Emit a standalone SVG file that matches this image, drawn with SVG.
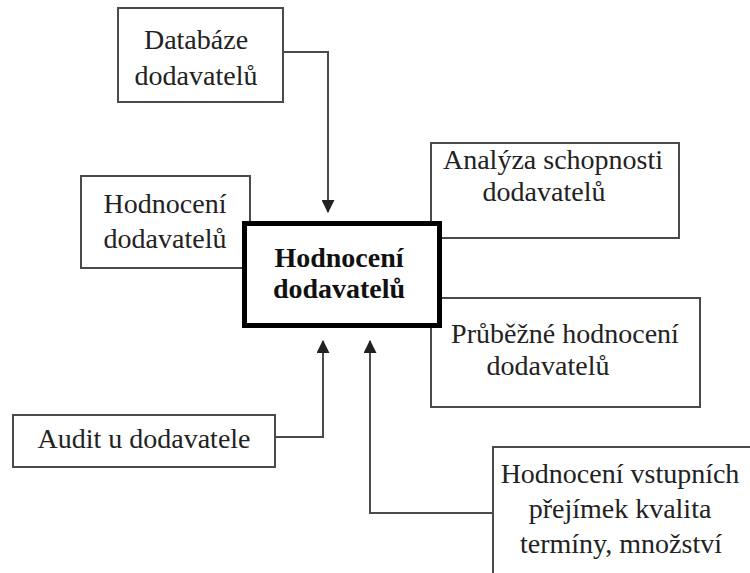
<svg xmlns="http://www.w3.org/2000/svg" width="750" height="573" viewBox="0 0 750 573" xml:lang="cs">
<defs>
<marker id="ah" viewBox="0 0 12 12" refX="11" refY="6" markerWidth="13" markerHeight="13" markerUnits="userSpaceOnUse" orient="auto">
<path d="M0,0 L12,6 L0,12 Z" fill="#222"/>
</marker>
</defs>
<rect width="750" height="573" fill="#fff"/>
<g id="connectors" fill="none" stroke="#4a4a4a" stroke-width="2">
<polyline points="283,52 328,52 328,212" marker-end="url(#ah)"/>
<polyline points="275,437 323,437 323,341" marker-end="url(#ah)"/>
<polyline points="493,513 370,513 370,341" marker-end="url(#ah)"/>
</g>
<g id="databaze">
<rect x="118" y="8" width="165" height="94" fill="#fff" stroke="#4a4a4a" stroke-width="2"/>
<text x="196" y="49" text-anchor="middle" fill="#222" style="font-family:'Liberation Serif','DejaVu Serif',serif;font-size:28px">Databáze</text>
<text x="196" y="85" text-anchor="middle" fill="#222" style="font-family:'Liberation Serif','DejaVu Serif',serif;font-size:28px">dodavatelů</text>
</g>
<g id="hodnoceni-left">
<rect x="81" y="176" width="169" height="92" fill="#fff" stroke="#4a4a4a" stroke-width="2"/>
<text x="165" y="213" text-anchor="middle" fill="#222" style="font-family:'Liberation Serif','DejaVu Serif',serif;font-size:28px">Hodnocení</text>
<text x="165" y="248" text-anchor="middle" fill="#222" style="font-family:'Liberation Serif','DejaVu Serif',serif;font-size:28px">dodavatelů</text>
</g>
<g id="analyza">
<rect x="431" y="143" width="248" height="95" fill="#fff" stroke="#4a4a4a" stroke-width="2"/>
<text x="553" y="169" text-anchor="middle" fill="#222" style="font-family:'Liberation Serif','DejaVu Serif',serif;font-size:28px">Analýza schopnosti</text>
<text x="544" y="201" text-anchor="middle" fill="#222" style="font-family:'Liberation Serif','DejaVu Serif',serif;font-size:28px">dodavatelů</text>
</g>
<g id="prubezne">
<rect x="431" y="298" width="269" height="109" fill="#fff" stroke="#4a4a4a" stroke-width="2"/>
<text x="565" y="343" text-anchor="middle" fill="#222" style="font-family:'Liberation Serif','DejaVu Serif',serif;font-size:28px">Průběžné hodnocení</text>
<text x="548" y="375" text-anchor="middle" fill="#222" style="font-family:'Liberation Serif','DejaVu Serif',serif;font-size:28px">dodavatelů</text>
</g>
<g id="audit">
<rect x="13" y="415" width="262" height="52" fill="#fff" stroke="#4a4a4a" stroke-width="2"/>
<text x="144" y="448" text-anchor="middle" fill="#222" style="font-family:'Liberation Serif','DejaVu Serif',serif;font-size:28px">Audit u dodavatele</text>
</g>
<g id="vstupni">
<rect x="493" y="447" width="300" height="200" fill="#fff" stroke="#4a4a4a" stroke-width="2"/>
<text x="620" y="483" text-anchor="middle" fill="#222" style="font-family:'Liberation Serif','DejaVu Serif',serif;font-size:28px">Hodnocení vstupních</text>
<text x="620" y="518" text-anchor="middle" fill="#222" style="font-family:'Liberation Serif','DejaVu Serif',serif;font-size:28px">přejímek kvalita</text>
<text x="621" y="553" text-anchor="middle" fill="#222" style="font-family:'Liberation Serif','DejaVu Serif',serif;font-size:28px">termíny, množství</text>
</g>
<g id="center">
<rect x="244.5" y="223.5" width="195" height="102" fill="#fff" stroke="#000" stroke-width="5"/>
<text x="339" y="267" text-anchor="middle" fill="#111" style="font-family:'Liberation Serif','DejaVu Serif',serif;font-size:28px;font-weight:bold">Hodnocení</text>
<text x="339" y="298" text-anchor="middle" fill="#111" style="font-family:'Liberation Serif','DejaVu Serif',serif;font-size:28px;font-weight:bold">dodavatelů</text>
</g>
</svg>
